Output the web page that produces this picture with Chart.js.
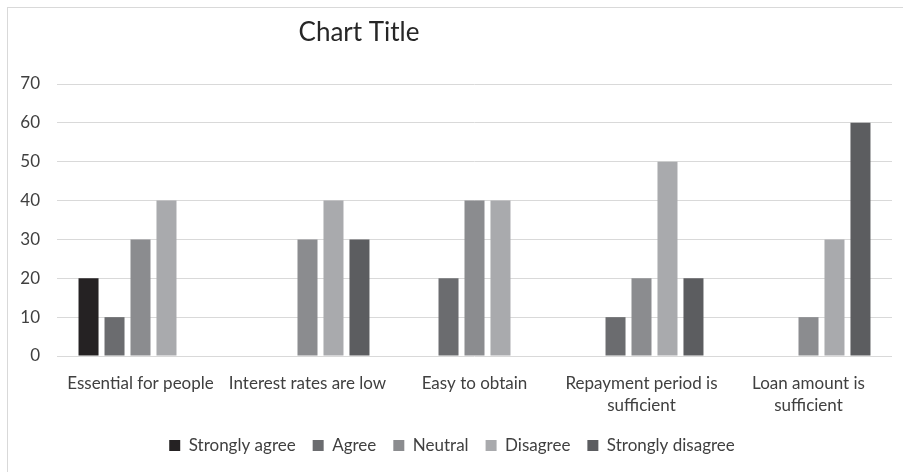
<!DOCTYPE html>
<html>
<head>
<meta charset="utf-8">
<script src="https://cdn.jsdelivr.net/npm/chart.js@4/dist/chart.umd.min.js"></script>
<style>
  html, body { margin: 0; padding: 0; background: #ffffff; }
  #wrap { position: relative; width: 903px; height: 472px; }
</style>
</head>
<body>
<div id="wrap"><canvas id="c" width="903" height="472"></canvas></div>
<script>
// Survey responses per statement (percent of respondents)
const categories = [
  "Essential for people",
  "Interest rates are low",
  "Easy to obtain",
  ["Repayment period is", "sufficient"],
  ["Loan amount is", "sufficient"]
];
const seriesNames = ["Strongly agree", "Agree", "Neutral", "Disagree", "Strongly disagree"];
const stronglyAgree    = [20, 0, 0, 0, 0];
const agree            = [10, 0, 20, 10, 0];
const neutral          = [30, 30, 40, 20, 10];
const disagree         = [40, 40, 40, 50, 30];
const stronglyDisagree = [0, 30, 0, 20, 60];
const yTicks = [0, 10, 20, 30, 40, 50, 60, 70];

const colors = ["#252223", "#6b6c6f", "#8b8c8f", "#a9aaad", "#5c5d60"];
const values = [stronglyAgree, agree, neutral, disagree, stronglyDisagree];

const FONT = "Lato, 'Open Sans', sans-serif";

// Outer frame and the free-floating title
const framePlugin = {
  id: "frame",
  beforeDraw(chart) {
    const ctx = chart.ctx;
    ctx.save();
    ctx.strokeStyle = "#d9d9d9";
    ctx.lineWidth = 1;
    ctx.strokeRect(7.5, 7.5, 1000, 1000);
    ctx.restore();
  },
  afterDraw(chart) {
    const ctx = chart.ctx;
    ctx.save();
    ctx.fillStyle = "#262626";
    ctx.font = "26px " + FONT;
    ctx.textAlign = "center";
    ctx.textBaseline = "middle";
    ctx.fillText("Chart Title", 359, 33);
    ctx.restore();
  }
};

new Chart(document.getElementById("c"), {
  type: "bar",
  data: {
    labels: categories,
    datasets: seriesNames.map((name, i) => ({
      label: name,
      data: values[i],
      backgroundColor: colors[i],
      borderWidth: 0,
      categoryPercentage: 0.778,
      barPercentage: 0.77
    }))
  },
  plugins: [framePlugin],
  options: {
    responsive: false,
    animation: false,
    devicePixelRatio: 1,
    layout: { padding: { top: 84, left: 12, right: 11, bottom: 8 } },
    plugins: {
      title: { display: false },
      tooltip: { enabled: false },
      legend: {
        position: "bottom",
        labels: {
          boxWidth: 11,
          boxHeight: 11,
          padding: 17,
          color: "#404040",
          font: { family: FONT, size: 17 }
        }
      }
    },
    scales: {
      x: {
        grid: { display: false },
        border: { display: false },
        ticks: {
          color: "#404040",
          font: { family: FONT, size: 17, lineHeight: 1.3 },
          maxRotation: 0,
          autoSkip: false,
          padding: 8
        },
        afterFit(scale) { scale.height = 64; }
      },
      y: {
        min: 0,
        max: 70,
        afterBuildTicks(scale) { scale.ticks = yTicks.map(v => ({ value: v })); },
        grid: { color: "#d9d9d9", lineWidth: 1, drawTicks: false },
        border: { display: false },
        ticks: {
          color: "#404040",
          font: { family: FONT, size: 17 },
          padding: 17
        },
        afterFit(scale) { scale.width = 45; }
      }
    }
  }
});
</script>
</body>
</html>
